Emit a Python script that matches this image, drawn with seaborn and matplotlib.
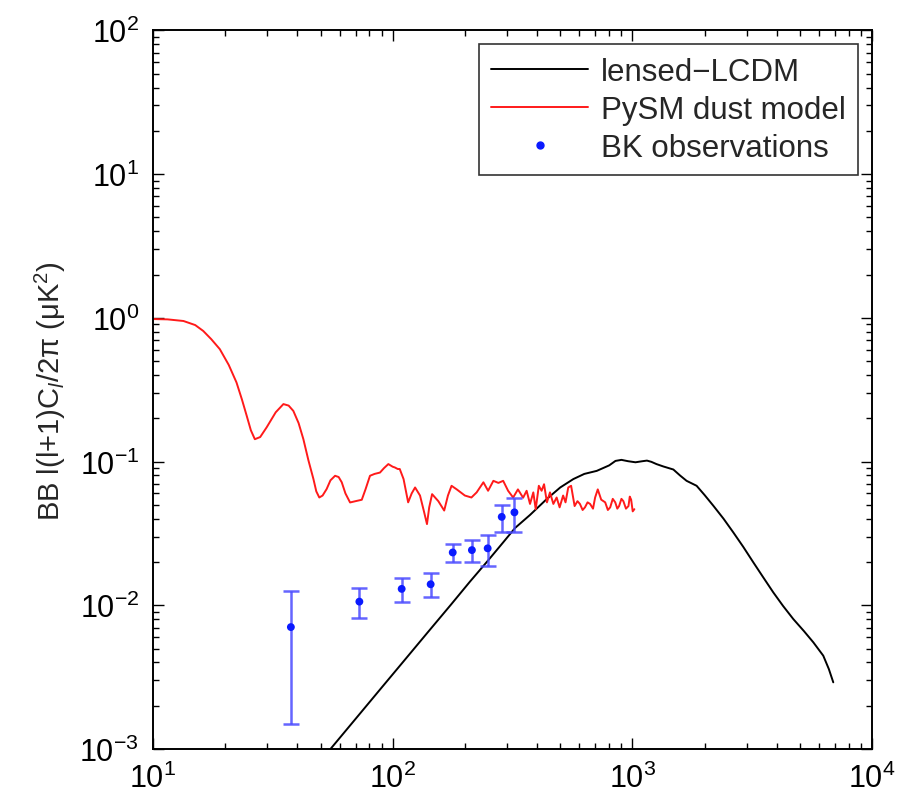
"""
BB power spectrum: lensed-LCDM, PySM dust model and BK bandpowers.
"""

import matplotlib
matplotlib.use("Agg")
import matplotlib.pyplot as plt
from matplotlib.lines import Line2D
from matplotlib.ticker import LogLocator, NullFormatter
import seaborn as sns
import numpy as np

# lensed-LCDM curve
lcdm_ell = [50, 55, 70, 90, 110, 140, 175, 210, 250, 288, 324, 374, 439, 500, 567,
            630, 710, 800, 850, 900, 960, 1030, 1100, 1150, 1200, 1260, 1346, 1482,
            1580, 1683, 1853, 2000, 2177, 2400, 2637, 2900, 3194, 3500, 3869, 4250,
            4690, 5200, 5687, 6255, 6600, 6887]
lcdm_bb = [0.00083, 0.001, 0.00162, 0.00268, 0.004, 0.00648, 0.0101, 0.0146, 0.0205,
           0.0272, 0.0345, 0.0425, 0.0548, 0.066, 0.0755, 0.082, 0.0861, 0.094, 0.101,
           0.1027, 0.1005, 0.0988, 0.1005, 0.1015, 0.0995, 0.096, 0.0924, 0.088, 0.08,
           0.0734, 0.0678, 0.0585, 0.0492, 0.040, 0.0321, 0.0255, 0.0199, 0.0158,
           0.0123, 0.0099, 0.00802, 0.0066, 0.00552, 0.00446, 0.0036, 0.00291]

# PySM dust model curve
dust_ell = [10, 11.5, 13.4, 15, 16.2, 17.5, 19.0, 20.7, 22.3, 23.5, 24.6, 25.6, 26.6,
            28, 29.8, 32.5, 35.0, 36.8, 38.5, 40.5, 42.4, 44.5, 46.7, 48, 49.4, 51, 53,
            55, 57.5, 59.5, 61.3, 63.5, 66.4, 70, 74.3, 77, 80.4, 84, 88.5, 92, 95.9,
            100, 102, 105, 107, 111, 116, 120, 124, 130, 135, 139, 142, 146, 155, 164,
            170, 176, 185, 200, 213, 224, 239, 250, 263, 276, 289, 303, 318, 333, 350,
            362, 374, 386, 395, 407, 418, 428, 440, 453, 468, 483, 497, 514, 526, 540,
            555, 574, 590, 604, 620, 634, 650, 666, 685, 699, 717, 741, 770, 790, 808,
            828, 848, 865, 880, 900, 917, 940, 963, 975, 988, 1003, 1019]
dust_bb = [0.98, 0.975, 0.95, 0.89, 0.81, 0.71, 0.605, 0.47, 0.355, 0.27, 0.208, 0.165,
           0.143, 0.148, 0.173, 0.22, 0.251, 0.245, 0.225, 0.185, 0.143, 0.102, 0.0755,
           0.062, 0.0562, 0.058, 0.0643, 0.074, 0.0796, 0.078, 0.0717, 0.060, 0.0519,
           0.053, 0.0542, 0.064, 0.0796, 0.082, 0.0838, 0.090, 0.096, 0.092, 0.091,
           0.0887, 0.0887, 0.0755, 0.052, 0.060, 0.066, 0.058, 0.045, 0.0367, 0.048,
           0.0593, 0.053, 0.0456, 0.058, 0.0678, 0.064, 0.058, 0.0562, 0.061, 0.0717,
           0.0626, 0.0734, 0.071, 0.0734, 0.0626, 0.0562, 0.064, 0.056, 0.0626, 0.0507,
           0.061, 0.0466, 0.0678, 0.0626, 0.0695, 0.052, 0.061, 0.0507, 0.0562, 0.048,
           0.058, 0.052, 0.066, 0.0678, 0.049, 0.053, 0.0507, 0.046, 0.048, 0.052,
           0.0507, 0.047, 0.0562, 0.064, 0.0543, 0.052, 0.046, 0.048, 0.055, 0.052,
           0.047, 0.049, 0.055, 0.053, 0.047, 0.049, 0.057, 0.0543, 0.045, 0.0466]

# BK bandpowers
bk_ell = [37.6, 72.6, 109, 144, 178, 214, 249, 285, 322]
bk_bb = [0.00705, 0.0106, 0.0130, 0.0140, 0.0233, 0.0242, 0.0249, 0.0412, 0.0443]
bk_hi = [0.01255, 0.0132, 0.0154, 0.0169, 0.0267, 0.0284, 0.0308, 0.0498, 0.0562]
bk_lo = [0.00149, 0.00815, 0.0105, 0.0114, 0.0199, 0.0199, 0.0188, 0.0324, 0.0321]

sns.set_style("white")
plt.rcParams["font.family"] = ["Liberation Sans", "DejaVu Sans"]
plt.rcParams["mathtext.fontset"] = "custom"
plt.rcParams["mathtext.rm"] = "Liberation Sans"
plt.rcParams["mathtext.it"] = "Liberation Sans:italic"

fig = plt.figure(figsize=(9, 8.03), dpi=100)
ax = fig.add_axes([0.170, 0.066, 0.799, 0.895])
ax.set(xscale="log", yscale="log")

sns.lineplot(x=lcdm_ell, y=lcdm_bb, ax=ax, color="black", lw=1.4,
             estimator=None, sort=False)
sns.lineplot(x=dust_ell, y=dust_bb, ax=ax, color="#ff1a1a", lw=1.4,
             estimator=None, sort=False)

bk = np.array(bk_bb)
yerr = [bk - np.array(bk_lo), np.array(bk_hi) - bk]
ax.errorbar(bk_ell, bk_bb, yerr=yerr, fmt="none", ecolor="#4a4aff",
            elinewidth=1.8, capsize=5.5, capthick=1.8, alpha=0.85)
sns.scatterplot(x=bk_ell, y=bk_bb, ax=ax, color="#0a1aff", s=32,
                edgecolor="none", zorder=5)

ax.set_xlim(10, 1e4)
ax.set_ylim(1e-3, 1e2)
ax.set_ylabel("BB l(l+1)C$_l$/2\u03c0 (\u03bcK$^2$)", fontsize=21, labelpad=8)

for a in ("x", "y"):
    getattr(ax, f"{a}axis").set_major_locator(LogLocator(base=10, numticks=10))
    getattr(ax, f"{a}axis").set_minor_locator(LogLocator(base=10, subs=np.arange(2, 10), numticks=10))
    getattr(ax, f"{a}axis").set_minor_formatter(NullFormatter())
ax.tick_params(which="both", direction="in", top=True, right=True, bottom=True,
               left=True, colors="black", labelsize=22, width=1.0)
ax.tick_params(which="major", length=8, pad=10)
ax.tick_params(which="minor", length=4)
for s in ax.spines.values():
    s.set_visible(True)
    s.set_color("black")
    s.set_linewidth(1.4)

handles = [
    Line2D([], [], color="black", lw=1.4),
    Line2D([], [], color="#ff1a1a", lw=1.4),
    Line2D([], [], color="#0a1aff", marker=".", markersize=10, linestyle="none"),
]
labels = ["lensed\u2212LCDM", "PySM dust model", "BK observations"]
leg = ax.legend(handles, labels, loc="upper right", fontsize=22.5, frameon=True,
                fancybox=False, edgecolor="black", handlelength=3.1,
                handletextpad=0.4, borderaxespad=0.45, labelspacing=0.25,
                borderpad=0.4)
leg.get_frame().set_linewidth(1.2)

fig.savefig("out.png", dpi=100)
plt.close(fig)
